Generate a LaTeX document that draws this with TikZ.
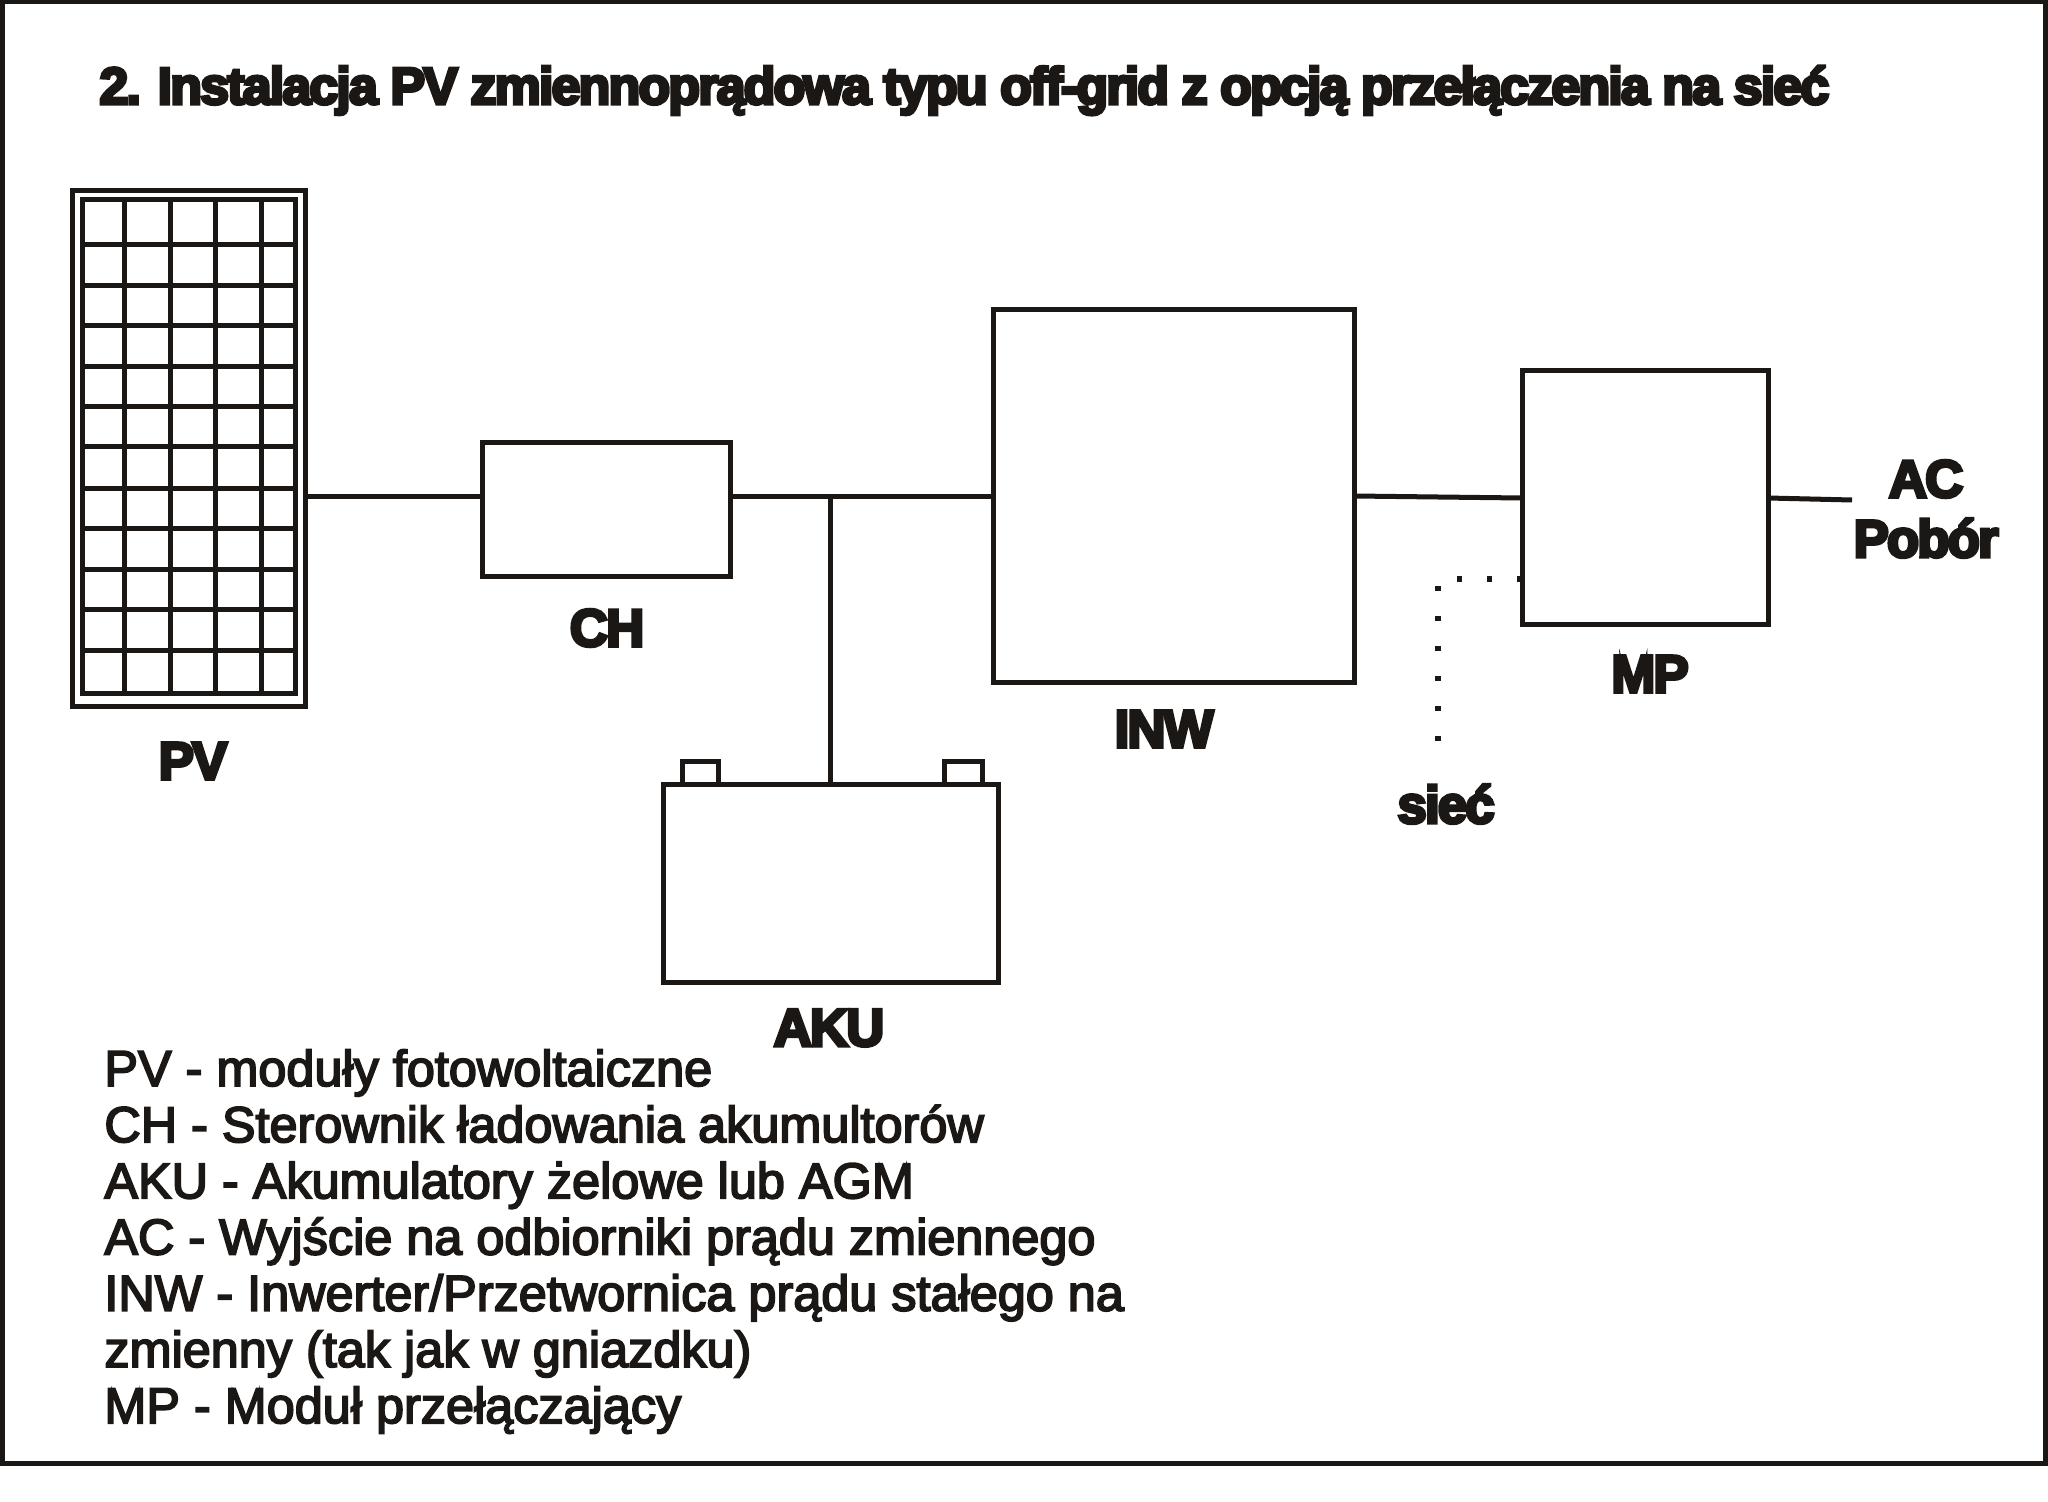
\documentclass[tikz,border=0pt]{standalone}
\usepackage{fontspec}
\setmainfont{Liberation Sans}
\newfontfamily\heavyfont[FakeBold=6,LetterSpace=-3.6]{Liberation Sans Bold}
\newfontfamily\legendfont[FakeBold=3.5]{Liberation Sans}
\definecolor{ink}{HTML}{1A1715}
\begin{document}
\begin{tikzpicture}[x=0.5pt,y=-0.5pt,
  ln/.style={draw=ink,line width=2.5pt},
  box/.style={ln,rectangle,inner sep=0pt,outer sep=0pt,anchor=north west},
  lab/.style={font=\heavyfont\fontsize{26.4}{30}\selectfont,text=ink,inner sep=0pt,anchor=center,align=center},
  dots/.style={draw=ink,line width=2.8pt,dash pattern=on 2.5pt off 12.5pt}]
\useasboundingbox (0,0) rectangle (2048,1502);
\node[box,minimum width=1021.5pt,minimum height=730.5pt] (frame) at (2,2) {};
% PV module
\node[box,minimum width=116.5pt,minimum height=257.5pt] (pv) at (72,191) {};
\node[box,minimum width=106.5pt,minimum height=246.5pt] (pvin) at (82,200) {};
\foreach \gx in {124,170,215,261}
  \draw[ln] (\gx,200) -- (\gx,693);
\foreach \gy in {245,286,326,367,407,447,488,528,569,609,650}
  \draw[ln] (82,\gy) -- (295,\gy);
% Boxes
\node[box,minimum width=124pt,minimum height=66.5pt] (ch) at (482,443) {};
\node[box,minimum width=180.5pt,minimum height=186pt] (inw) at (993,310) {};
\node[box,minimum width=123pt,minimum height=126.5pt] (mp) at (1522,371) {};
\node[box,minimum width=167.5pt,minimum height=99pt] (aku) at (663,784) {};
\node[box,minimum width=18pt,minimum height=11.5pt] (tl) at (682,761) {};
\node[box,minimum width=19pt,minimum height=11.5pt] (tr) at (944,761) {};
% Connectors
\coordinate (bus) at (0,496);
\coordinate (acend) at (1852,500);
\coordinate (dotcorner) at (1438,579);
\coordinate (dotend) at (1438,745);
\draw[ln] (pv.east |- bus) -- (ch.west |- bus);
\draw[ln] (ch.east |- bus) -- (inw.west |- bus);
\draw[ln] (aku.north |- bus) -- (aku.north);
\draw[ln] (inw.east |- bus) -- ([yshift=-1pt]mp.west |- bus);
\draw[ln] ([yshift=-1pt]mp.east |- bus) -- (acend);
\draw[dots] (mp.west |- dotcorner) -- ++(-75,0);
\draw[dots] (1438,586) -- (dotend);
% Labels
\node[lab] (lpv) at (193,761) {PV};
\node[lab] (lch) at (607,628) {CH};
\node[lab] (laku) at (829,1028) {AKU};
\node[lab] (linw) at (1164,729) {INW};
\node[lab] (lmp) at (1650,674) {MP};
\node[lab] (lsiec) at (1446,804) {sieć};
\node[lab] (lac) at (1926,479) {AC};
\node[lab] (lpob) at (1926,538) {Pobór};
\node[anchor=base west,inner sep=0pt,text=ink,font=\heavyfont\fontsize{26}{30}\selectfont] (title) at (99,104) {2. Instalacja PV zmiennoprądowa typu off-grid z opcją przełączenia na sieć};
\node[anchor=north west,inner sep=0pt,text=ink,align=left,font=\legendfont\fontsize{25.2}{28.1}\selectfont] (legend) at (104,1049) {PV - moduły fotowoltaiczne\\
CH - Sterownik ładowania akumultorów\\
AKU - Akumulatory żelowe lub AGM\\
AC - Wyjście na odbiorniki prądu zmiennego\\
INW - Inwerter/Przetwornica prądu stałego na\\
zmienny (tak jak w gniazdku)\\
MP - Moduł przełączający};
\end{tikzpicture}
\end{document}
